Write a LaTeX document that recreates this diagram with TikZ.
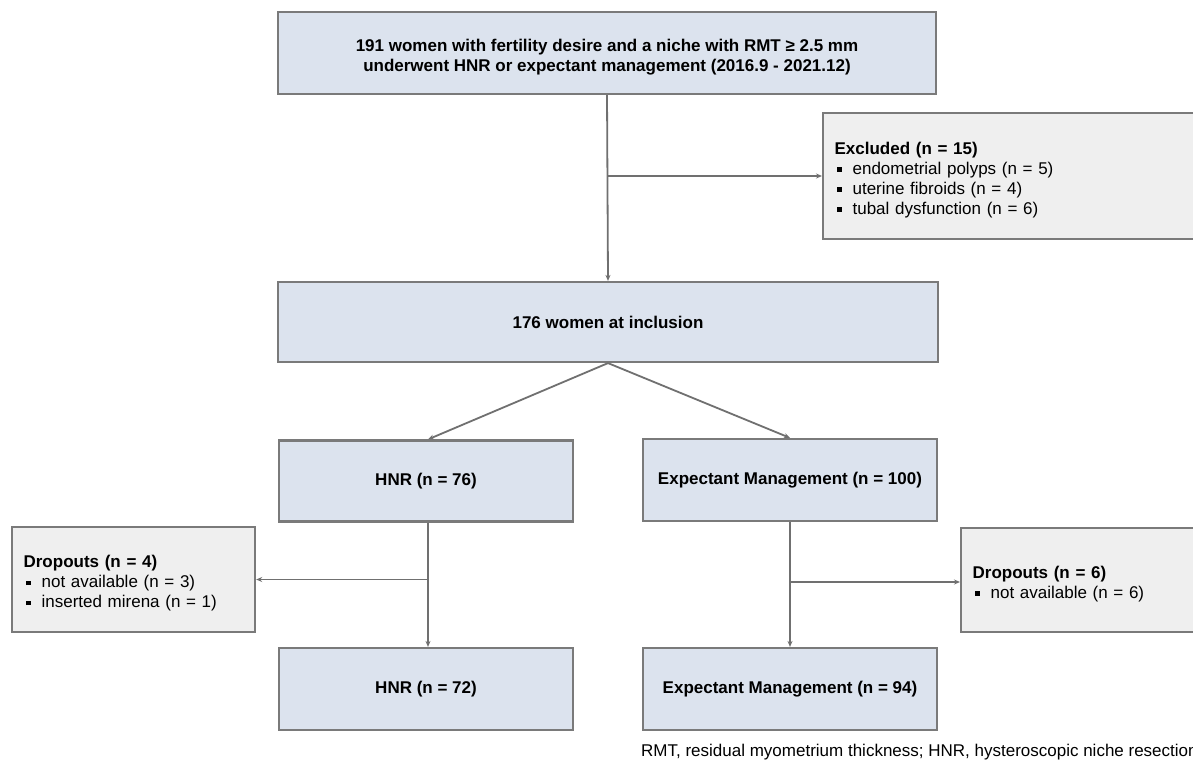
\documentclass[tikz,border=0pt]{standalone}
\usepackage{fontspec}
\setmainfont{Liberation Sans}
\usetikzlibrary{arrows.meta}
\definecolor{bluefill}{HTML}{DCE3EE}
\definecolor{grayfill}{HTML}{EFEFEF}
\definecolor{edgegray}{HTML}{7A7A7A}
\definecolor{linegray}{HTML}{707070}
\newcommand\bul{\makebox[18pt][l]{\hspace{2.5pt}\rule[2.5pt]{4.5pt}{4.5pt}}}
\newcommand\dn{\rule{0pt}{20pt}}
\begin{document}
\begin{tikzpicture}[x=1pt,y=-1pt,
  bluebox/.style={draw=edgegray,line width=2.2pt,fill=bluefill,inner sep=0pt,
    font=\fontsize{17}{20}\selectfont\bfseries,align=center},
  graybox/.style={draw=edgegray,line width=2.2pt,fill=grayfill,inner xsep=11.5pt,inner ysep=0pt,
    font=\fontsize{17}{20}\selectfont,align=left},
  conn/.style={draw=linegray,line width=1.8pt,-{Stealth[length=6pt,width=5pt]}},
  plain/.style={draw=linegray,line width=1.8pt}]
\useasboundingbox (0,0) rectangle (1193,765);
\clip (0,0) rectangle (1193,765);
\fill[white] (0,0) rectangle (1193,765);
% boxes
\node[bluebox,minimum width=658pt,minimum height=82pt] (top) at (607,53)
  {\dn 191 women with fertility desire and a niche with RMT ≥ 2.5 mm\\underwent HNR or expectant management (2016.9 - 2021.12)};
\node[graybox,minimum height=126pt,text width=427pt,anchor=west] (excl) at (822,176)
  {\dn\textbf{Excluded (n = 15)}\\\bul endometrial polyps (n = 5)\\\bul uterine fibroids (n = 4)\\\bul tubal dysfunction (n = 6)};
\node[bluebox,minimum width=660pt,minimum height=80pt] (mid) at (608,322) {176 women at inclusion};
\node[bluebox,minimum width=294pt,minimum height=81pt] (hnr1) at (426,481) {HNR (n = 76)};
\node[bluebox,minimum width=294pt,minimum height=82pt] (em1) at (790,480) {Expectant Management (n = 100)};
\node[graybox,minimum height=105pt,text width=220pt,anchor=west] (dropL) at (11,579.5)
  {\dn\textbf{Dropouts (n = 4)}\\\bul not available (n = 3)\\\bul inserted mirena (n = 1)};
\node[graybox,minimum height=104pt,text width=300pt,anchor=west] (dropR) at (960,580)
  {\dn\textbf{Dropouts (n = 6)}\\\bul not available (n = 6)};
\node[bluebox,minimum width=294pt,minimum height=82pt] (hnr2) at (426,689) {HNR (n = 72)};
\node[bluebox,minimum width=294pt,minimum height=82pt] (em2) at (790,689) {Expectant Management (n = 94)};
\node[anchor=west,inner sep=0pt,font=\fontsize{17}{20}\selectfont] (note) at (641,752)
  {RMT, residual myometrium thickness; HNR, hysteroscopic niche resection};
% connectors
\draw[conn] (top.south) -- (mid.north);
\coordinate (bx) at (top.south |- excl.west);
\draw[conn] (bx) -- (excl.west);
\draw[conn] (mid.south) -- ([xshift=2pt]hnr1.north);
\draw[conn] (mid.south) -- (em1.north);
\coordinate (h1b) at ([xshift=2pt]hnr1.south);
\coordinate (h2t) at ([xshift=2pt]hnr2.north);
\draw[conn] (h1b) -- (h2t);
\coordinate (hl) at (h1b |- dropL.east);
\draw[conn] (hl) -- (dropL.east);
\draw[conn] (em1.south) -- (em2.north);
\coordinate (el) at ([yshift=-2pt]em1.south |- dropR.west);
\draw[conn] (el) -- (el -| dropR.west);
\end{tikzpicture}
\end{document}
